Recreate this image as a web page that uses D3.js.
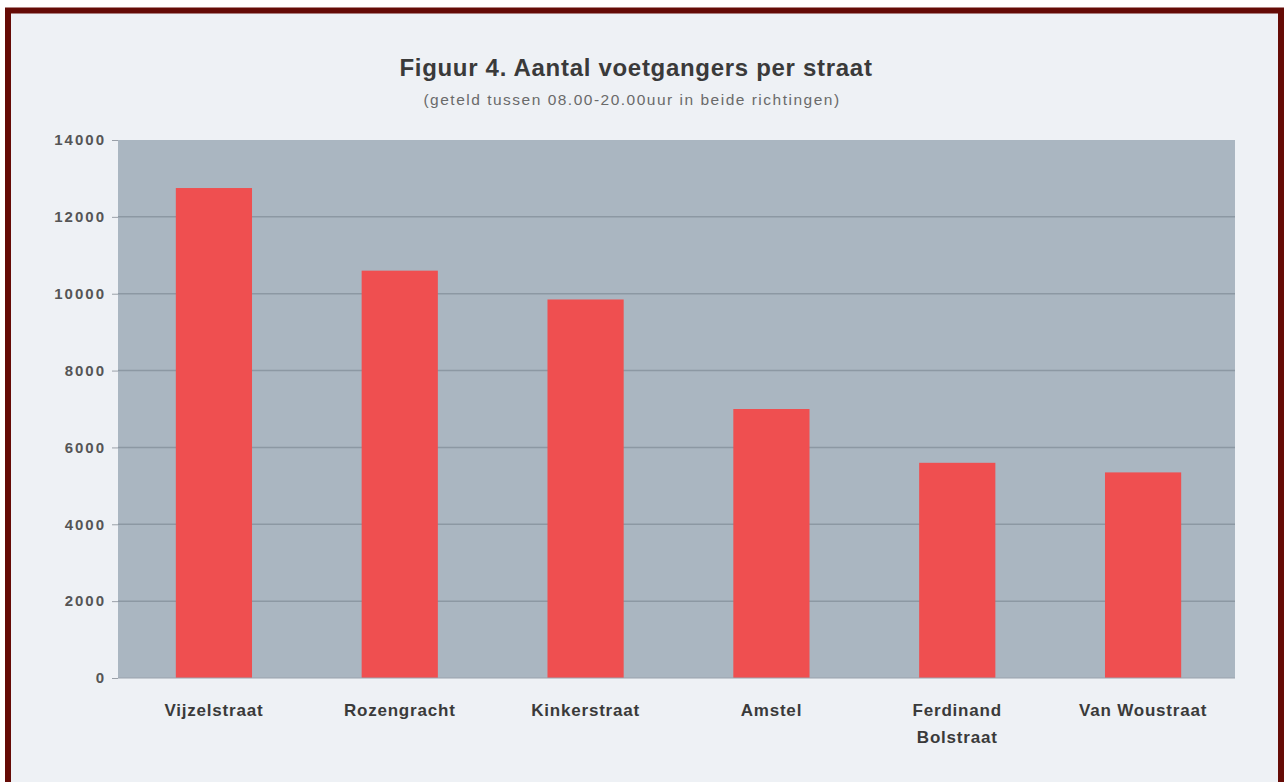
<!DOCTYPE html>
<html>
<head>
<meta charset="utf-8">
<script src="https://cdn.jsdelivr.net/npm/d3@7"></script>
<style>
  html, body { margin: 0; padding: 0; background: #ffffff; }
  svg { display: block; }
  text { font-family: "Liberation Sans", Arial, sans-serif; }
</style>
</head>
<body>
<svg id="chart" width="1287" height="782"></svg>
<script>
// ---- data ----
const titleText = "Figuur 4. Aantal voetgangers per straat";
const subtitleText = "(geteld tussen 08.00-20.00uur in beide richtingen)";
const categories = ["Vijzelstraat", "Rozengracht", "Kinkerstraat", "Amstel", "Ferdinand Bolstraat", "Van Woustraat"];
const categoryLines = [["Vijzelstraat"], ["Rozengracht"], ["Kinkerstraat"], ["Amstel"], ["Ferdinand", "Bolstraat"], ["Van Woustraat"]];
const values = [12750, 10600, 9850, 7000, 5600, 5350];
const yTicks = [0, 2000, 4000, 6000, 8000, 10000, 12000, 14000];

// ---- layout ----
const W = 1287, H = 782;
const plot = { left: 118, right: 1235, top: 140, bottom: 678 };

const svg = d3.select("#chart");

// page background + frame
svg.append("rect").attr("x", 0).attr("y", 0).attr("width", W).attr("height", H).attr("fill", "#ffffff");
svg.append("rect").attr("x", 8).attr("y", 10.5).attr("width", 1273).attr("height", 790)
  .attr("fill", "#eef1f5").attr("stroke", "#650b06").attr("stroke-width", 6);

// title
svg.append("text").attr("x", 636).attr("y", 76).attr("text-anchor", "middle")
  .attr("font-size", 24).attr("font-weight", "bold").attr("fill", "#3a3a3a")
  .attr("letter-spacing", 0.7).text(titleText);
svg.append("text").attr("x", 632).attr("y", 105).attr("text-anchor", "middle")
  .attr("font-size", 15.5).attr("fill", "#6a6a6a").attr("letter-spacing", 1.5).text(subtitleText);

// scales
const x = d3.scaleBand().domain(categories).range([plot.left + 3, plot.right + 1]).paddingInner(0.59).paddingOuter(0.295);
const y = d3.scaleLinear().domain([0, 14000]).range([plot.bottom, plot.top]);

// plot background
svg.append("rect").attr("x", plot.left).attr("y", plot.top)
  .attr("width", plot.right - plot.left).attr("height", plot.bottom - plot.top)
  .attr("fill", "#aab6c1");

// gridlines
svg.append("g").selectAll("line").data(yTicks.filter(d => d > 0 && d < 14000)).join("line")
  .attr("x1", plot.left).attr("x2", plot.right)
  .attr("y1", d => y(d)).attr("y2", d => y(d))
  .attr("stroke", "#8c98a3").attr("stroke-width", 1.5);

// bars
svg.append("g").selectAll("rect").data(values).join("rect")
  .attr("x", (d, i) => x(categories[i]))
  .attr("y", d => y(d))
  .attr("width", x.bandwidth())
  .attr("height", d => y(0) - y(d))
  .attr("fill", "#ef4f50");

// y axis
const yAxis = d3.axisLeft(y).tickValues(yTicks).tickSize(6).tickPadding(6).tickFormat(d3.format("d"));
const gy = svg.append("g").attr("transform", `translate(${plot.left},0)`).call(yAxis);
gy.select(".domain").remove();
gy.selectAll(".tick line").attr("stroke", "#9aa0a8");
gy.selectAll(".tick text").attr("font-size", 15).attr("fill", "#555").attr("font-weight", "bold")
  .attr("letter-spacing", 2)
  .style("font-family", "'Liberation Sans', Arial, sans-serif");

// x baseline
svg.append("line").attr("x1", plot.left).attr("x2", plot.right)
  .attr("y1", plot.bottom).attr("y2", plot.bottom).attr("stroke", "#9aa3ad").attr("stroke-width", 1);

// x labels
const xAxis = d3.axisBottom(x).tickSize(0).tickPadding(0).tickFormat(() => "");
const gx = svg.append("g").attr("transform", `translate(0,${plot.bottom})`).call(xAxis);
gx.select(".domain").remove();
gx.selectAll(".tick").each(function(d, i) {
  const t = d3.select(this).append("text").attr("text-anchor", "middle")
    .attr("font-size", 17).attr("font-weight", "bold").attr("fill", "#3a3a3a")
    .attr("letter-spacing", 0.8);
  categoryLines[i].forEach((ln, j) => {
    t.append("tspan").attr("x", 0).attr("y", 38 + j * 27).text(ln);
  });
});
</script>
</body>
</html>
